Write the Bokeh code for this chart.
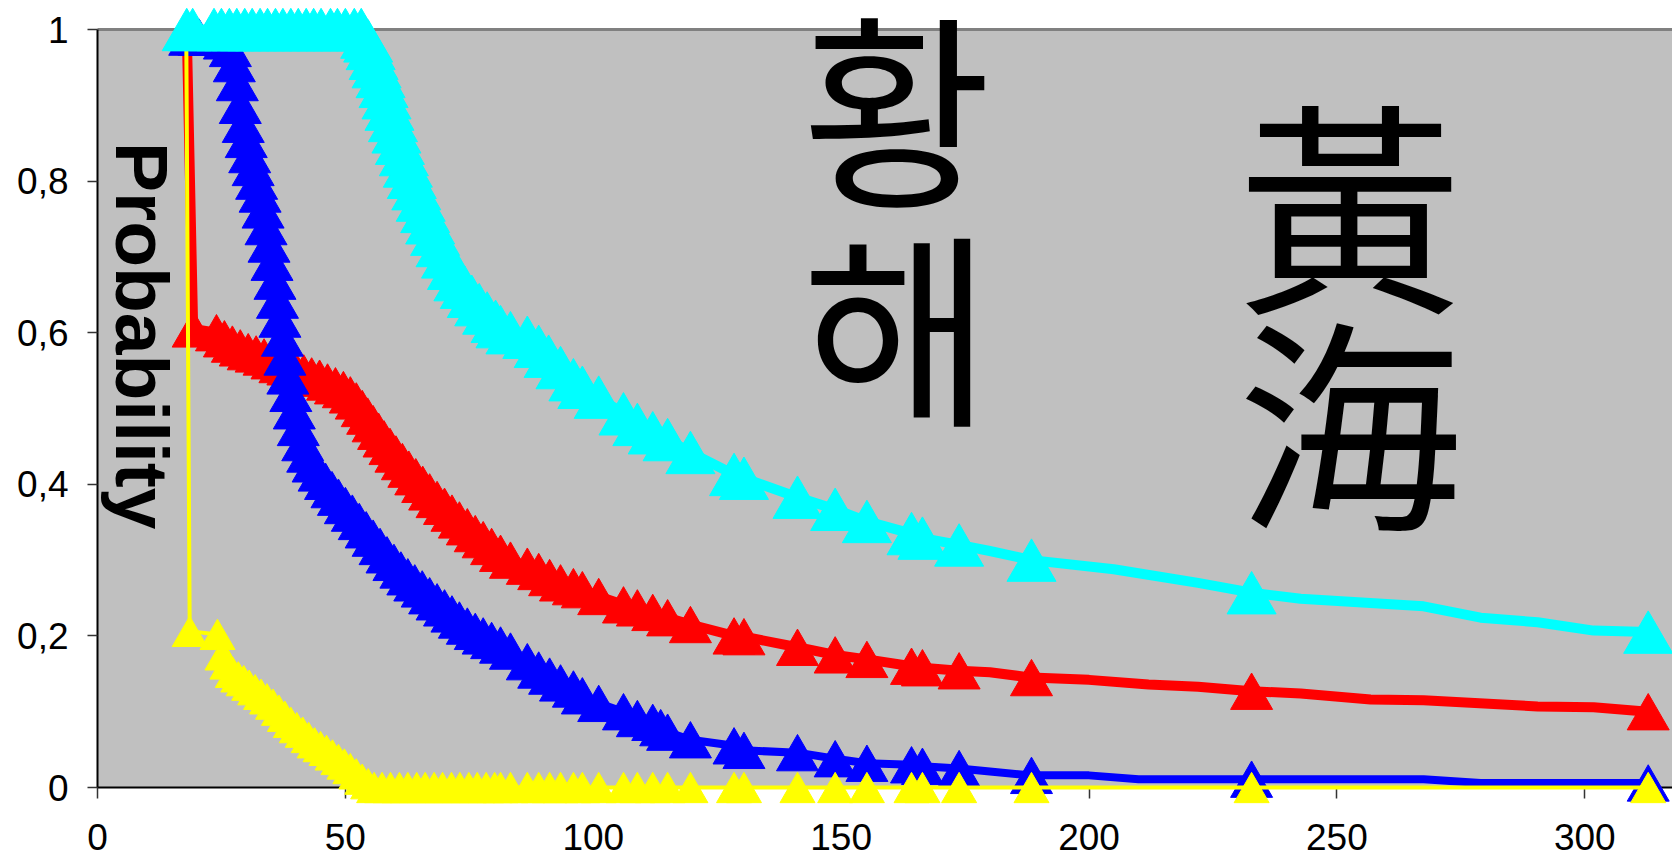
import math
from bokeh.plotting import figure
from bokeh.models import Range1d, LinearAxis, FixedTicker, Label, ColumnDataSource
from bokeh.embed import file_html
from bokeh.resources import INLINE
from bokeh.core.properties import value
from bokeh.transform import dodge

# ---------------- data ----------------
x_ticks = [0, 50, 100, 150, 200, 250, 300]
x_tick_labels = ["0", "50", "100", "150", "200", "250", "300"]
y_ticks = [0, 0.2, 0.4, 0.6, 0.8, 1.0]
y_tick_labels = ["0", "0,2", "0,4", "0,6", "0,8", "1"]

cyan_x = [18.0, 19.2, 23.5, 25.0, 26.6, 28.1, 29.7, 31.2, 32.8, 34.3,
          35.9, 37.4, 39.0, 40.5, 42.1, 43.6, 45.1, 47.0, 48.4, 50.0,
          51.8, 53.2, 54.0, 54.6, 55.1, 55.7, 56.3, 57.1, 57.7, 58.3,
          58.9, 59.6, 60.3, 61.0, 61.8, 62.6, 63.4, 64.3, 65.2, 66.1,
          67.1, 68.1, 69.2, 70.3, 71.5, 72.8, 74.1, 75.5, 77.0, 78.6,
          80.3, 81.3, 83.3, 86.7, 89.0, 91.0, 93.4, 96.0, 97.8, 101.1,
          106.1, 108.9, 112.0, 115.0, 119.6, 128.4, 130.4, 141.2, 148.8, 155.2,
          164.2, 166.4, 173.8, 188.4, 232.8, 312.8]
cyan_y = [1, 1, 1, 1, 1, 1, 1, 1, 1, 1,
          1, 1, 1, 1, 1, 1, 1, 1, 1, 1,
          1, 1, 0.99, 0.985, 0.975, 0.962, 0.951, 0.938, 0.925, 0.91,
          0.895, 0.88, 0.865, 0.85, 0.835, 0.82, 0.805, 0.79, 0.775, 0.76,
          0.745, 0.73, 0.715, 0.70, 0.685, 0.67, 0.66, 0.648, 0.637, 0.626,
          0.615, 0.608, 0.60, 0.594, 0.582, 0.569, 0.554, 0.538, 0.528, 0.515,
          0.493, 0.479, 0.468, 0.459, 0.442, 0.413, 0.408, 0.383, 0.367, 0.351,
          0.335, 0.329, 0.32, 0.30, 0.257, 0.205]
cyan_kink_x = [180.0, 205.0, 222.0, 242.7, 267.5, 279.0, 290.5, 301.8]
cyan_kink_y = [0.312, 0.288, 0.270, 0.249, 0.239, 0.224, 0.218, 0.207]

red_x = [18.0, 19.3, 24.0, 25.6, 27.2, 28.8, 30.4, 32.0, 33.6, 35.2,
         36.8, 38.4, 40.0, 41.6, 43.2, 44.8, 46.4, 48.0, 49.6, 51.0,
         52.2, 53.4, 54.5, 55.6, 56.7, 57.8, 59.0, 60.2, 61.5, 62.8,
         64.2, 65.6, 67.0, 68.5, 70.0, 71.5, 73.0, 74.6, 76.2, 77.8,
         79.5, 81.3, 83.3, 86.7, 89.0, 91.2, 93.4, 96.0, 97.8, 101.1,
         106.1, 108.9, 112.0, 115.0, 119.6, 128.4, 130.4, 141.2, 148.8, 155.2,
         164.2, 166.4, 173.8, 188.4, 232.8, 312.8]
red_y = [1.0, 0.605, 0.60, 0.592, 0.585, 0.58, 0.575, 0.572, 0.568, 0.563,
         0.558, 0.555, 0.55, 0.547, 0.543, 0.54, 0.535, 0.53, 0.525, 0.518,
         0.51, 0.50, 0.49, 0.48, 0.47, 0.46, 0.45, 0.44, 0.43, 0.42,
         0.41, 0.40, 0.39, 0.38, 0.371, 0.362, 0.353, 0.344, 0.335, 0.327,
         0.318, 0.309, 0.30, 0.292, 0.285, 0.277, 0.27, 0.265, 0.261, 0.252,
         0.241, 0.237, 0.231, 0.224, 0.215, 0.2, 0.199, 0.185, 0.175, 0.169,
         0.16, 0.158, 0.154, 0.145, 0.127, 0.1]
red_kink_x = [180.0, 200.0, 212.0, 222.0, 242.7, 256.8, 267.5, 290.5, 301.8]
red_kink_y = [0.152, 0.142, 0.136, 0.133, 0.124, 0.116, 0.115, 0.107, 0.106]

blue_x = [18.6, 20.5, 22.4, 24.2, 25.6, 26.8, 27.6, 28.2, 28.8, 29.4,
          30.0, 30.7, 31.4, 32.1, 32.8, 33.4, 34.0, 34.6, 35.2, 35.8,
          36.3, 36.8, 37.3, 37.8, 38.4, 39.0, 39.7, 40.5, 41.4, 42.4,
          43.5, 44.7, 46.0, 47.3, 48.6, 50.0, 51.4, 52.8, 54.2, 55.6,
          57.0, 58.4, 59.8, 61.2, 62.6, 64.0, 65.5, 67.0, 68.5, 70.0,
          71.5, 73.0, 74.6, 76.2, 77.8, 79.5, 81.3, 83.3, 86.7, 89.0,
          91.2, 93.4, 96.0, 97.8, 101.1, 106.1, 108.9, 112.0, 113.6, 115.0,
          119.6, 128.4, 130.4, 141.2, 148.8, 155.2, 164.2, 166.4, 173.8, 188.4,
          232.8, 312.8]
blue_y = [0.99, 0.99, 0.99, 0.99, 0.985, 0.975, 0.955, 0.93, 0.90, 0.875,
          0.855, 0.835, 0.818, 0.80, 0.783, 0.762, 0.74, 0.717, 0.693, 0.668,
          0.643, 0.618, 0.593, 0.568, 0.543, 0.52, 0.497, 0.475, 0.455, 0.44,
          0.427, 0.415, 0.404, 0.393, 0.383, 0.372, 0.362, 0.351, 0.34, 0.329,
          0.318, 0.307, 0.297, 0.287, 0.278, 0.27, 0.262, 0.253, 0.245, 0.237,
          0.229, 0.221, 0.213, 0.206, 0.20, 0.194, 0.188, 0.18, 0.166, 0.155,
          0.147, 0.138, 0.13, 0.121, 0.111, 0.1, 0.091, 0.086, 0.079, 0.073,
          0.063, 0.055, 0.049, 0.046, 0.038, 0.032, 0.03, 0.028, 0.025, 0.016,
          0.011, 0.006]
blue_kink_x = [180.0, 200.0, 210.0, 267.5, 279.0]
blue_kink_y = [0.021, 0.016, 0.011, 0.011, 0.006]

yellow_x = [17.9, 18.6, 24.2, 25.2, 26.2, 27.3, 28.4, 29.5, 30.6, 31.8,
            33.0, 34.2, 35.4, 36.6, 37.8, 39.0, 40.2, 41.4, 42.6, 43.8,
            45.0, 46.2, 47.4, 48.6, 49.8, 51.0, 52.2, 53.4, 54.6, 55.8,
            57.4, 59.1, 60.9, 62.6, 64.4, 66.1, 67.9, 69.6, 71.4, 73.1,
            74.9, 76.6, 78.4, 80.1, 81.3, 83.3, 86.7, 89.0, 91.2, 93.4,
            96.0, 97.8, 101.1, 106.1, 108.9, 112.0, 115.0, 119.6, 128.4, 130.4,
            141.2, 148.8, 155.2, 164.2, 166.4, 173.8, 188.4, 232.8, 312.8]
yellow_y = [1.0, 0.206, 0.202, 0.175, 0.163, 0.152, 0.146, 0.141, 0.135, 0.129,
            0.123, 0.117, 0.11, 0.102, 0.094, 0.086, 0.079, 0.073, 0.066, 0.059,
            0.054, 0.049, 0.043, 0.037, 0.031, 0.025, 0.018, 0.011, 0.005, 0.0,
            0.0, 0.0, 0.0, 0.0, 0.0, 0.0, 0.0, 0.0, 0.0, 0.0,
            0.0, 0.0, 0.0, 0.0, 0.0, 0.0, 0.0, 0.0, 0.0, 0.0,
            0.0, 0.0, 0.0, 0.0, 0.0, 0.0, 0.0, 0.0, 0.0, 0.0,
            0.0, 0.0, 0.0, 0.0, 0.0, 0.0, 0.0, 0.0, 0.0]
yellow_kink_x = []
yellow_kink_y = []

korean_text = ["황", "해"]
hanja_text = ["黃", "海"]

# ---------------- figure ----------------
W, H = 1672, 866
X_END = 317.7
FRAME_H = 758.0

p = figure(width=W, height=H, output_backend="svg", toolbar_location=None,
           x_range=Range1d(0, X_END), y_range=Range1d(0, 1),
           min_border_left=97, min_border_right=0,
           min_border_top=29, min_border_bottom=79,
           background_fill_color="#C0C0C0", border_fill_color="white",
           outline_line_color=None)
p.grid.visible = False

LABEL_FONT = "Liberation Sans"

xa = p.xaxis[0]
xa.ticker = FixedTicker(ticks=x_ticks)
xa.major_label_overrides = dict(zip(x_ticks, x_tick_labels))
xa.axis_line_color = "black"
xa.axis_line_width = 2
xa.major_tick_in = 0
xa.major_tick_out = 11
xa.major_tick_line_color = "#333333"
xa.major_tick_line_width = 1.5
xa.minor_tick_line_color = None
xa.major_label_standoff = 25
xa.major_label_text_font = LABEL_FONT
xa.major_label_text_font_size = "37px"
xa.major_label_text_color = "black"

ya = p.yaxis[0]
ya.ticker = FixedTicker(ticks=y_ticks)
ya.major_label_overrides = dict(zip(y_ticks, y_tick_labels))
ya.axis_line_color = "black"
ya.axis_line_width = 2
ya.major_tick_in = 0
ya.major_tick_out = 10
ya.major_tick_line_color = "#333333"
ya.major_tick_line_width = 1.5
ya.minor_tick_line_color = None
ya.major_label_standoff = 19
ya.major_label_text_font = LABEL_FONT
ya.major_label_text_font_size = "37px"
ya.major_label_text_color = "black"

top = LinearAxis(ticker=FixedTicker(ticks=[]), axis_line_color="#808080",
                 axis_line_width=3, major_tick_line_color=None,
                 minor_tick_line_color=None, major_tick_in=0, major_tick_out=0,
                 major_label_standoff=0, major_label_text_font_size="0px")
p.add_layout(top, "above")

# ---------------- texts ----------------
p.add_layout(Label(x=9.0, y=0.596, text="Probability", angle=-math.pi / 2,
                   text_align="center", text_baseline="alphabetic",
                   text_font=LABEL_FONT, text_font_style="bold",
                   text_font_size="75px", text_color="black"))

kr = p.text(x=[161.2, 161.2], y=[0.906, 0.617], text=korean_text,
            text_font=value("Noto Sans CJK KR"), text_font_size="207px",
            text_align="center", text_baseline="middle", text_color="black")
kr.level = "annotation"
hj = p.text(x=[252.6, 252.6], y=[0.778, 0.492], text=hanja_text,
            text_font=value("Noto Sans CJK JP"), text_font_size="225px",
            text_align="center", text_baseline="middle", text_color="black")
hj.level = "annotation"

# ---------------- series ----------------
series = [
    ("#FF0000", red_x, red_y, red_kink_x, red_kink_y, 10, 42),
    ("#0000FF", blue_x, blue_y, blue_kink_x, blue_kink_y, 8, 42),
    ("#FFFF00", yellow_x, yellow_y, yellow_kink_x, yellow_kink_y, 4, 35),
    ("#00FFFF", cyan_x, cyan_y, cyan_kink_x, cyan_kink_y, 10, 49),
]
for color, mx, my, kx, ky, lw, ms in series:
    pts = sorted(zip(list(mx) + list(kx), list(my) + list(ky)))
    line_src = ColumnDataSource(dict(x=[a for a, b in pts], y=[b for a, b in pts]))
    lr = p.line("x", "y", source=line_src, line_color=color, line_width=lw,
                line_join="round", line_cap="round")
    lr.level = "overlay"
    # centre the triangle's bounding box on the value (bokeh centres the centroid)
    shift = -(ms * math.sqrt(3) / 2) / 6.0 / FRAME_H
    mk_src = ColumnDataSource(dict(x=mx, y=my))
    sr = p.scatter("x", dodge("y", shift, range=p.y_range), source=mk_src,
                   marker="triangle", size=ms,
                   fill_color=color, line_color=color, line_width=1)
    sr.level = "overlay"

open("out.html", "w").write(file_html(p, INLINE))
